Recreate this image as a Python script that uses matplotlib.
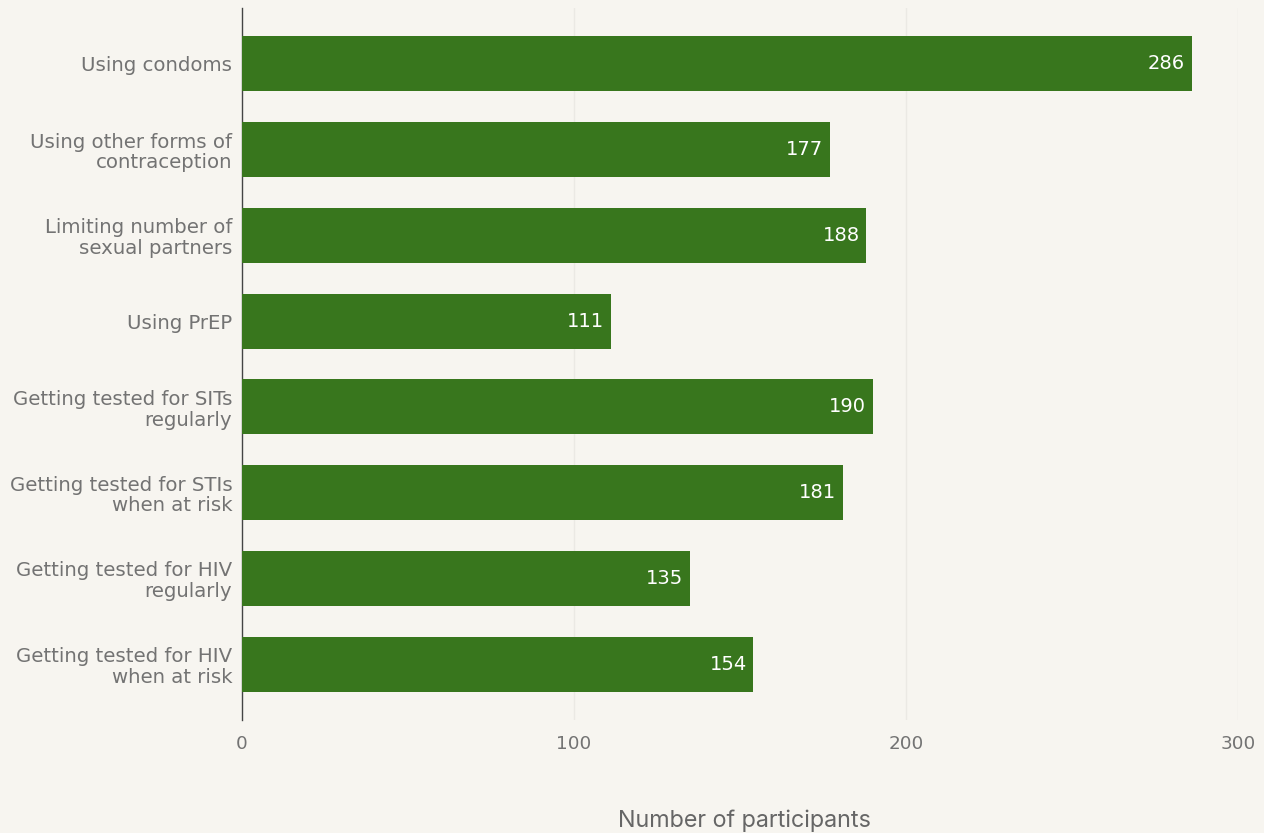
import matplotlib
matplotlib.use("Agg")
import matplotlib.pyplot as plt

plt.rcParams["font.family"] = "DejaVu Sans"

categories = [
    "Using condoms",
    "Using other forms of\ncontraception",
    "Limiting number of\nsexual partners",
    "Using PrEP",
    "Getting tested for SITs\nregularly",
    "Getting tested for STIs\nwhen at risk",
    "Getting tested for HIV\nregularly",
    "Getting tested for HIV\nwhen at risk",
]
participants = [286, 177, 188, 111, 190, 181, 135, 154]
x_ticks = [0, 100, 200, 300]

bg = "#f7f5f0"
bar_color = "#38761d"
text_gray = "#737373"

fig = plt.figure(figsize=(12.64, 8.33), dpi=100, facecolor=bg)
ax = fig.add_axes([242 / 1264, 113 / 833, (1238 - 242) / 1264, (720 - 8) / 833])
ax.set_facecolor(bg)

n = len(categories)
ypos = list(range(n))
ax.barh(ypos, participants, height=0.64, color=bar_color, zorder=3)

for y, v in zip(ypos, participants):
    ax.text(v - 2.0, y, str(v), ha="right", va="center", color="white",
            fontsize=14, family="DejaVu Sans", zorder=4)

ax.set_ylim(n - 0.35, -0.65)
ax.set_xlim(0, 300)
ax.set_yticks(ypos)
ax.set_yticklabels(categories, fontsize=14.2, color=text_gray, linespacing=1.12)
ax.set_xticks(x_ticks)
ax.set_xticklabels([str(t) for t in x_ticks], fontsize=13.2, color=text_gray)
ax.tick_params(axis="both", length=0)
ax.tick_params(axis="y", pad=7)
ax.tick_params(axis="x", pad=11)

for t in x_ticks[1:]:
    ax.axvline(t, color="#ebe9e4", lw=1, zorder=1)

for side in ["top", "right", "bottom"]:
    ax.spines[side].set_visible(False)
ax.spines["left"].set_color("#444444")
ax.spines["left"].set_linewidth(1)

fig.text(744 / 1264, 12 / 833, "Number of participants", ha="center",
         va="center", fontsize=16.8, color="#666666", family="Inter")

fig.savefig("out.png", dpi=100, facecolor=bg)
